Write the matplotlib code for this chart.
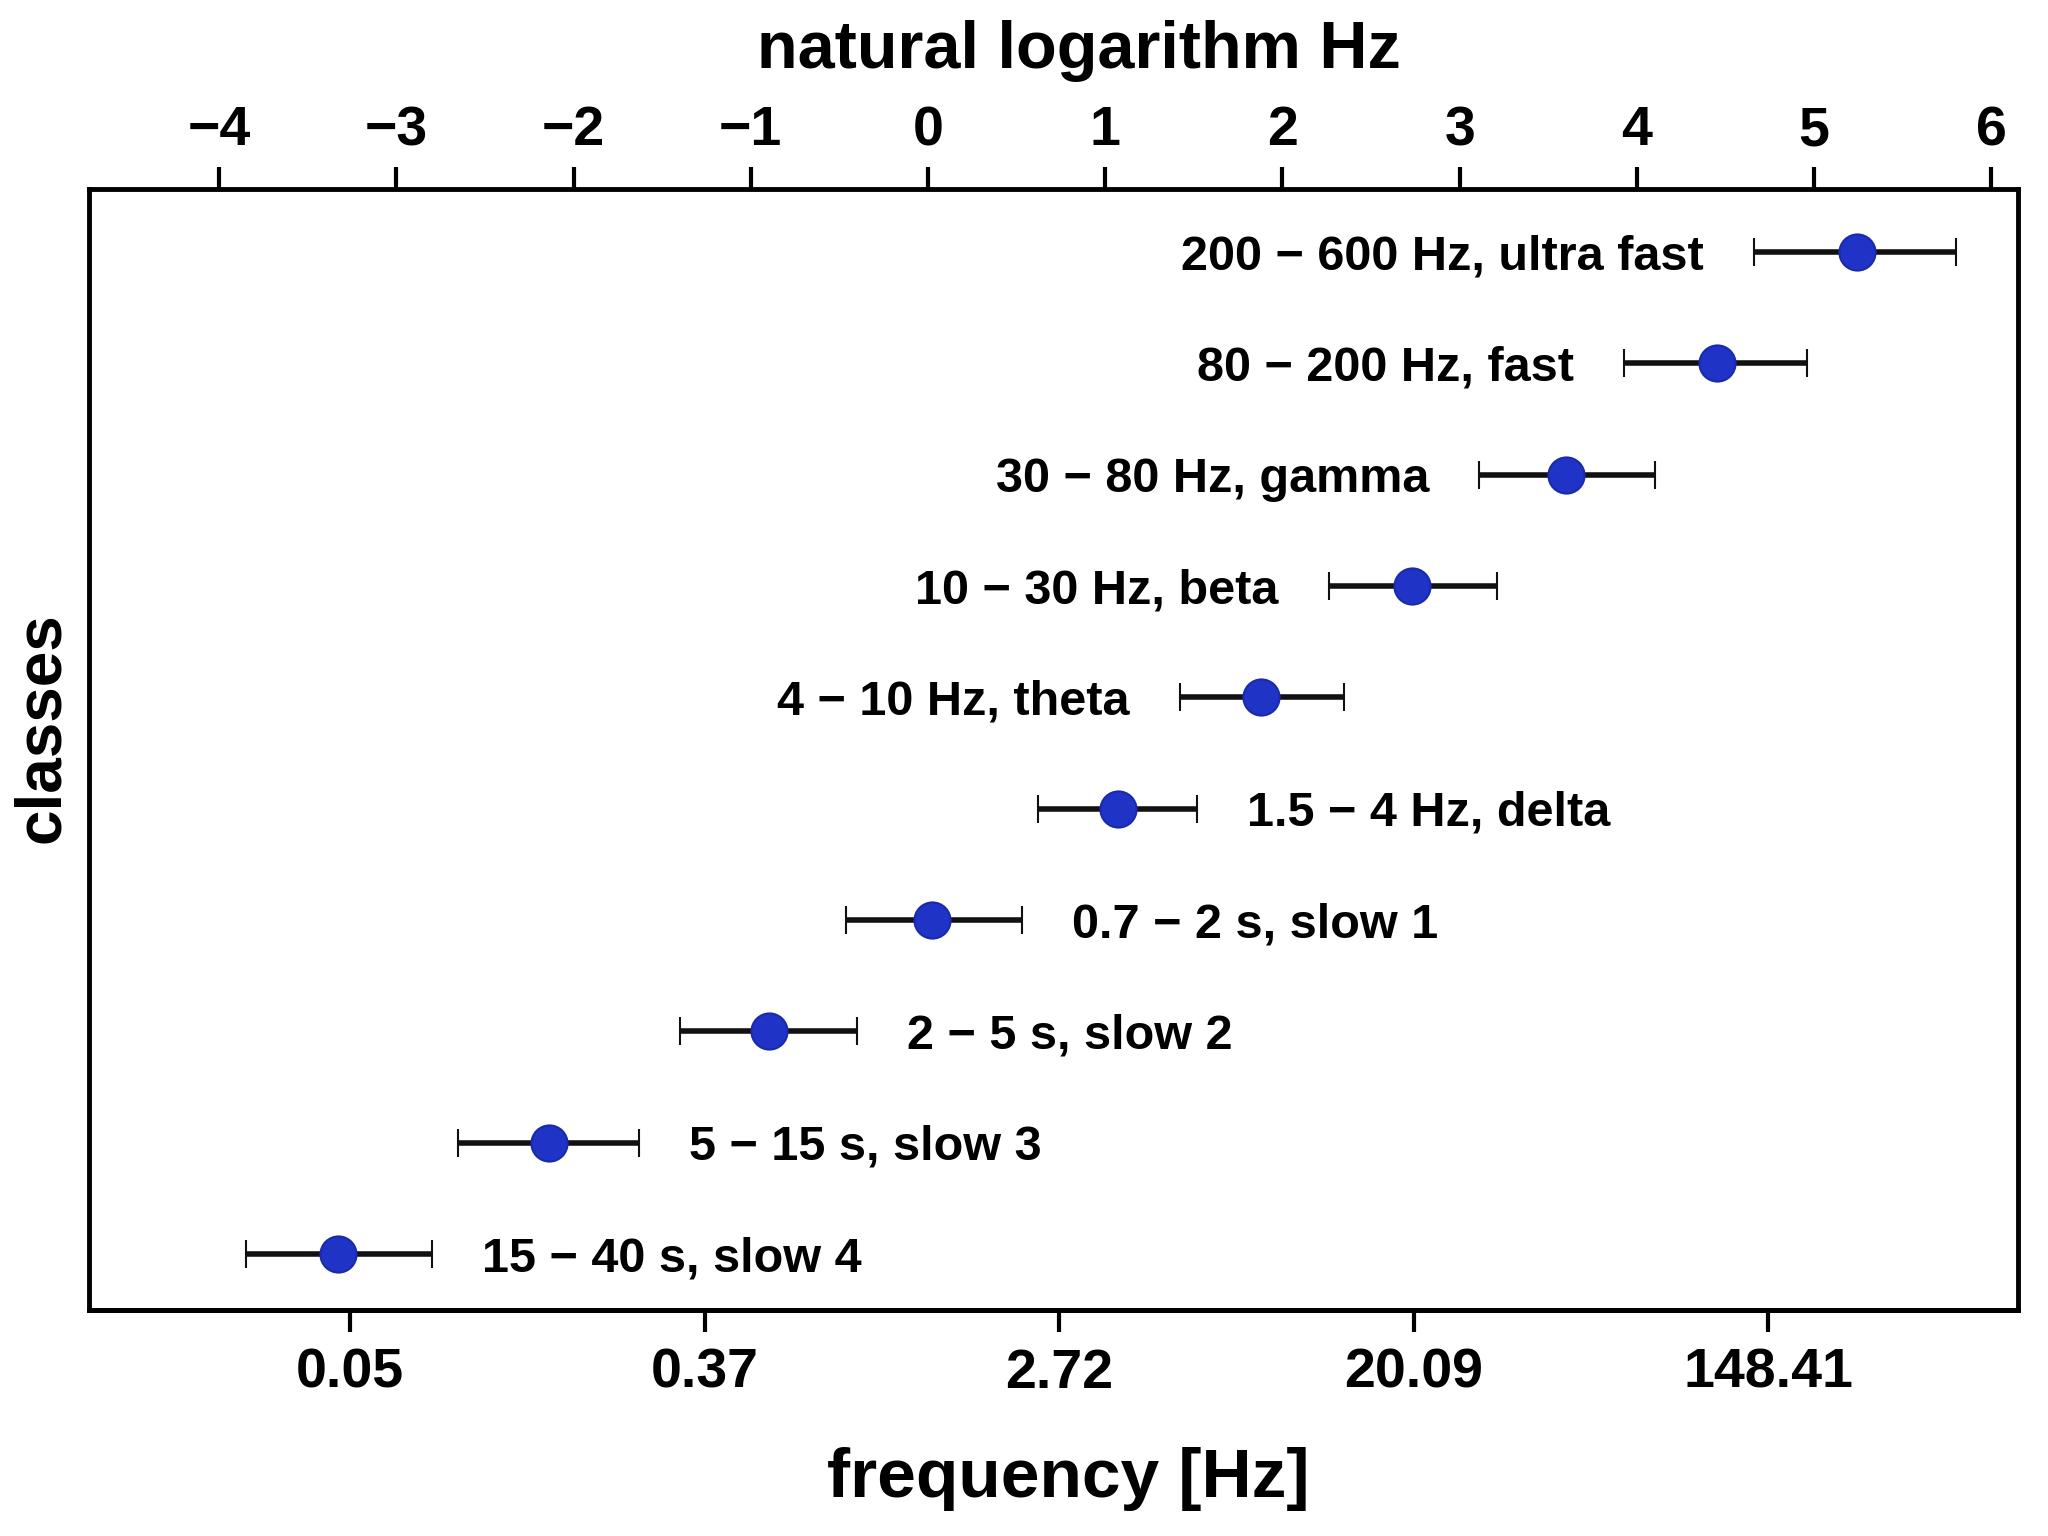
import numpy as np
import matplotlib.pyplot as plt

plt.rcParams['font.family'] = ['Liberation Sans', 'DejaVu Sans']
plt.rcParams['font.weight'] = 'bold'

# classes from slowest (bottom) to fastest (top)
classes = ["15 − 40 s, slow 4", "5 − 15 s, slow 3", "2 − 5 s, slow 2",
           "0.7 − 2 s, slow 1", "1.5 − 4 Hz, delta", "4 − 10 Hz, theta",
           "10 − 30 Hz, beta", "30 − 80 Hz, gamma", "80 − 200 Hz, fast",
           "200 − 600 Hz, ultra fast"]
# natural logarithm of the frequency (top axis)
centre = [-3.33, -2.14, -0.90, 0.02, 1.07, 1.88, 2.73, 3.60, 4.45, 5.24]
low = [-3.85, -2.65, -1.40, -0.46, 0.62, 1.42, 2.26, 3.11, 3.93, 4.66]
high = [-2.80, -1.63, -0.40, 0.53, 1.52, 2.35, 3.21, 4.10, 4.96, 5.80]
label_left = [False] * 5 + [True] * 5

ln_ticks = np.arange(-4, 7)
hz_ticks = [-3, -1, 1, 3, 5]   # ln values shown as Hz on the bottom axis
bottom_shift = 0.26            # bottom axis sits a bit off the top one

centre = np.array(centre)
low = np.array(low)
high = np.array(high)
y = np.arange(len(classes))

fig = plt.figure(figsize=(20.48, 15.36), dpi=100)
ax = fig.add_axes([0.0434, 0.1471, 0.9419, 0.7296])

ax.errorbar(centre, y, xerr=[centre - low, high - centre], fmt='o',
            color='#1f34c6', mec='#1a2aa8', mew=1.5, markersize=26,
            ecolor='#111111', elinewidth=4, capsize=10, capthick=4)

for i in range(len(classes)):
    if label_left[i]:
        ax.annotate(classes[i], xy=(low[i], y[i]), xytext=(-36, -12.5),
                    textcoords='offset points', ha='right', va='baseline',
                    fontsize=35)
    else:
        ax.annotate(classes[i], xy=(high[i], y[i]), xytext=(36, -12.5),
                    textcoords='offset points', ha='left', va='baseline',
                    fontsize=35)

ax.set_xlim(-4.735, 6.15)
ax.set_ylim(-0.505, 9.563)
ax.set_yticks([])

# top axis: natural logarithm
ax.xaxis.tick_top()
ax.set_xticks(ln_ticks)
ax.tick_params(axis='x', length=16, width=3, labelsize=40, pad=7)

# bottom axis: frequency in Hz
sec = ax.secondary_xaxis('bottom', functions=(lambda x: x + bottom_shift,
                                              lambda x: x - bottom_shift))
sec.set_xticks(hz_ticks, labels=[f"{np.exp(v):.2f}" for v in hz_ticks])
sec.tick_params(axis='x', length=16, width=3, labelsize=40, pad=11)
sec.spines['bottom'].set_linewidth(3.5)

for s in ax.spines.values():
    s.set_linewidth(3.5)

fig.text(0.5217, 0.0254, "frequency [Hz]", ha='center', va='baseline',
         fontsize=50)
fig.text(0.527, 0.9557, "natural logarithm Hz", ha='center', va='baseline',
         fontsize=48)
fig.text(0.0205, 0.526, "classes", ha='center', va='center', rotation=90,
         fontsize=46)

fig.savefig("out.png", dpi=100)
